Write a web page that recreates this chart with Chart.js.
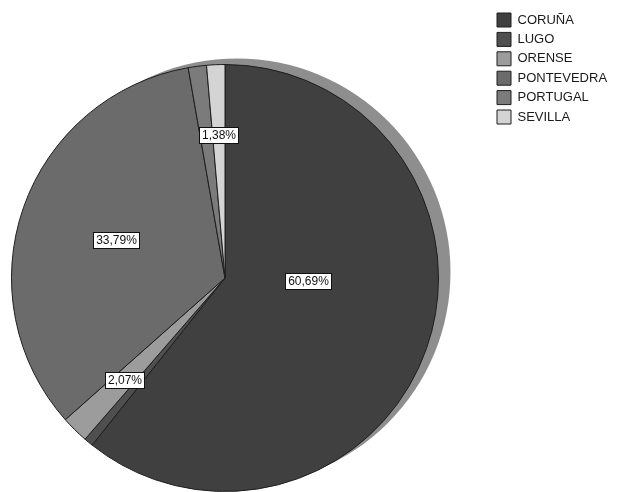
<!DOCTYPE html>
<html><head><meta charset="utf-8">
<script src="https://cdn.jsdelivr.net/npm/chart.js@4/dist/chart.umd.min.js"></script>
<style>html,body{margin:0;padding:0;background:#fff;overflow:hidden}canvas{display:block}</style>
</head><body>
<canvas id="c" width="620" height="492"></canvas>
<script>
const categories = ['CORUÑA', 'LUGO', 'ORENSE', 'PONTEVEDRA', 'PORTUGAL', 'SEVILLA'];
const percentages = [60.69, 0.69, 2.07, 33.79, 1.38, 1.38];
const sliceColors = ['#404040', '#4f4f4f', '#9c9c9c', '#6b6b6b', '#7b7b7b', '#d4d4d4'];
const shownLabels = [true, false, true, true, false, true];

const shadowPlugin = {
  id: 'pieShadow',
  beforeDatasetsDraw(chart, args, opts) {
    const arc = chart.getDatasetMeta(0).data[0];
    if (!arc) return;
    const p = arc.getProps(['x', 'y', 'outerRadius'], true);
    const ctx = chart.ctx;
    ctx.save();
    ctx.fillStyle = opts.color;
    ctx.beginPath();
    ctx.arc(p.x + opts.dx, p.y + opts.dy, p.outerRadius, 0, Math.PI * 2);
    ctx.fill();
    ctx.restore();
  }
};

const labelPlugin = {
  id: 'boxLabels',
  afterDatasetsDraw(chart, args, opts) {
    const meta = chart.getDatasetMeta(0);
    const ds = chart.data.datasets[0];
    const ctx = chart.ctx;
    ctx.save();
    ctx.font = opts.font;
    ctx.textAlign = 'center';
    ctx.textBaseline = 'middle';
    meta.data.forEach((arc, i) => {
      if (!shownLabels[i]) return;
      const p = arc.getProps(['x', 'y', 'startAngle', 'endAngle', 'outerRadius'], true);
      const pl = opts.placement[i] || { f: 0.6, da: 0 };
      const mid = (p.startAngle + p.endAngle) / 2 + pl.da * Math.PI / 180;
      const r = p.outerRadius * pl.f;
      const cx = p.x + Math.cos(mid) * r;
      const cy = p.y + Math.sin(mid) * r;
      const txt = ds.data[i].toFixed(2).replace('.', ',') + '%';
      const w = Math.round(ctx.measureText(txt).width + 5);
      const h = 16;
      const x0 = Math.round(cx - w / 2) + 0.5, y0 = Math.round(cy - h / 2) + 0.5;
      ctx.fillStyle = '#ffffff';
      ctx.fillRect(x0, y0, w, h);
      ctx.strokeStyle = '#111111';
      ctx.lineWidth = 1;
      ctx.strokeRect(x0, y0, w, h);
      ctx.fillStyle = '#111111';
      ctx.fillText(txt, x0 + w / 2, y0 + h / 2 + 0.5);
    });
    ctx.restore();
  }
};

const legendMove = {
  id: 'legendMove',
  afterLayout(chart, args, opts) {
    const lg = chart.legend;
    if (!lg) return;
    const w = lg.width, h = lg.height;
    lg.left = opts.x; lg.top = opts.y;
    lg.right = opts.x + w; lg.bottom = opts.y + h;
  }
};

new Chart(document.getElementById('c'), {
  type: 'pie',
  data: {
    labels: categories,
    datasets: [{
      data: percentages,
      backgroundColor: sliceColors,
      borderColor: '#1e1e1e',
      borderWidth: 1
    }]
  },
  options: {
    responsive: false,
    animation: false,
    events: [],
    devicePixelRatio: 1,
    layout: { padding: { left: 9, right: 179, top: 64, bottom: -4 } },
    plugins: {
      tooltip: { enabled: false },
      legend: {
        display: true,
        position: 'chartArea',
        align: 'start',
        labels: {
          boxWidth: 14,
          boxHeight: 14,
          padding: 5.4,
          color: '#1a1a1a',
          font: { family: "Arial, 'Liberation Sans', sans-serif", size: 13 }
        }
      },
      pieShadow: { color: '#8e8e8e', dx: 12, dy: -6 },
      boxLabels: {
        font: "12px Arial, 'Liberation Sans', sans-serif",
        placement: [
          { f: 0.39, da: -17 },
          null,
          { f: 0.67, da: 0 },
          { f: 0.54, da: 0 },
          null,
          { f: 0.67, da: 0 }
        ]
      },
      legendMove: { x: 491.6, y: 7.6 }
    }
  },
  plugins: [shadowPlugin, labelPlugin, legendMove]
});
</script>
</body></html>
